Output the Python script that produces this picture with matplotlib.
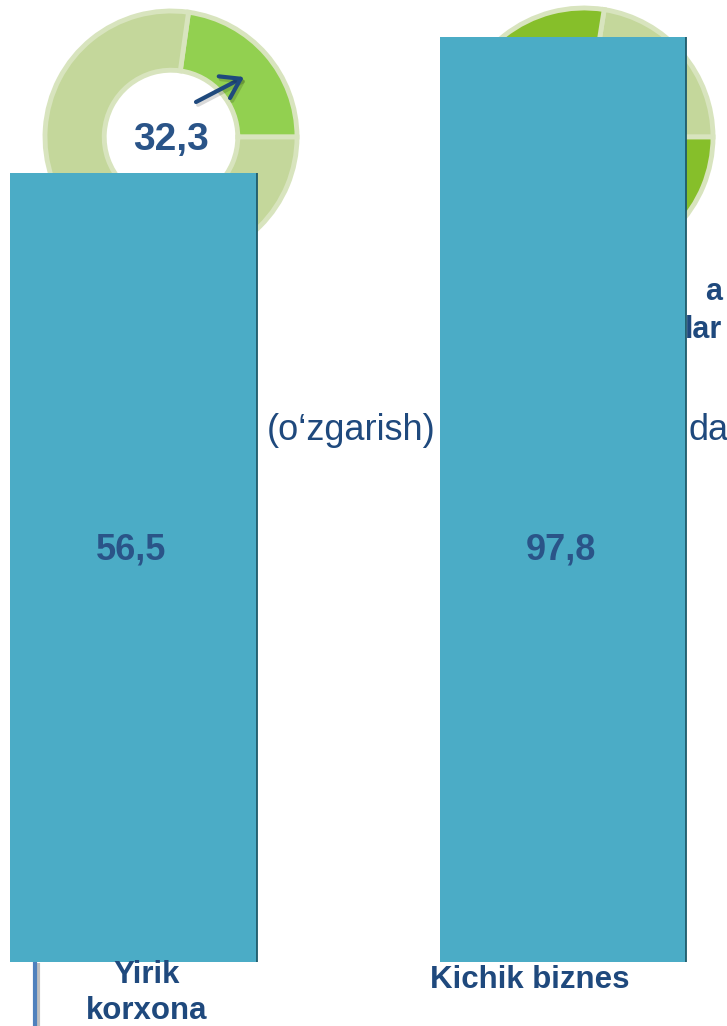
import matplotlib
matplotlib.use("Agg")
import matplotlib.pyplot as plt
import matplotlib.patheffects as pe
from matplotlib.transforms import blended_transform_factory

# ---- data ----
categories = ["Yirik\nkorxona", "Kichik biznes"]
values = [56.5, 97.8]
value_labels = ["56,5", "97,8"]
donut_left_shares = [82, 188, 90]      # degrees: bright green, light, light
donut_right_shares = [81, 189, 90]     # degrees: light, dark, dark
donut_left_center_label = "32,3"

W, H = 727, 1026
fig = plt.figure(figsize=(W / 100, H / 100), dpi=100)
plt.rcParams['font.family'] = ['Liberation Sans', 'DejaVu Sans']

NAVY = '#1F497D'
NUM = '#2A5488'
BAR = '#4BACC6'
RIM = '#D8E4BE'

# background axes in pixel coordinates
bg = fig.add_axes([0, 0, 1, 1])
bg.set_xlim(0, W)
bg.set_ylim(H, 0)
bg.axis('off')
bg.set_zorder(0)


def px_axes(cx, cy, r):
    return fig.add_axes([(cx - r) / W, (H - cy - r) / H, 2 * r / W, 2 * r / H])


# left donut
axl = px_axes(171, 137, 126)
axl.pie(donut_left_shares, startangle=0, counterclock=True, radius=1,
        colors=['#92D050', '#C4D79B', '#C4D79B'],
        wedgeprops=dict(width=0.47, edgecolor=RIM, linewidth=3.5))
axl.set_xlim(-1, 1)
axl.set_ylim(-1, 1)
axl.set_zorder(1)
axl.text(0, -0.02, donut_left_center_label, ha='center', va='center',
         fontsize=28, fontweight='bold', color=NUM)

# right donut
axr = px_axes(584, 137, 129)
axr.pie(donut_right_shares, startangle=0, counterclock=True, radius=1,
        colors=['#C4D79B', '#86BF2A', '#86BF2A'],
        wedgeprops=dict(width=0.47, edgecolor=RIM, linewidth=3.5))
axr.set_xlim(-1, 1)
axr.set_ylim(-1, 1)
axr.set_zorder(1)

# background texts
bg.text(351, 430, "(o‘zgarish)", ha='center', va='center', fontsize=26, color=NAVY)
bg.text(688, 430, "da", ha='left', va='center', fontsize=26, color=NAVY)
bg.text(722, 292, "a", ha='right', va='center', fontsize=22, fontweight='bold', color=NAVY)
bg.text(722, 330, "lar", ha='right', va='center', fontsize=22, fontweight='bold', color=NAVY)
bg.plot([35, 35], [962, 1026], color='#4F81BD', lw=3, solid_capstyle='butt',
        path_effects=[pe.SimpleLineShadow(offset=(2, -1), alpha=0.25), pe.Normal()])

# bar axes
ax = fig.add_axes([0, (H - 962) / H, 1, 962 / H])
ax.set_zorder(2)
ax.patch.set_alpha(0)
ymin, ymax = -183.1, 109.0
ax.set_xlim(-0.311, 1.382)
ax.set_ylim(ymin, ymax)
x = list(range(len(values)))
width = 0.575
ax.bar(x, [v - ymin for v in values], bottom=ymin, width=width, color=BAR, zorder=2)
ax.vlines([xi + width / 2 for xi in x], ymin, values, color='#1E5B6B', lw=1.3, zorder=3)
tr = blended_transform_factory(ax.transData, ax.transAxes)
for xi, lab in zip(x, value_labels):
    ax.text(xi - 0.005, 0.428, lab, transform=tr, ha='center', va='center',
            fontsize=26, fontweight='bold', color=NUM, zorder=4)
ax.axis('off')

# top overlay (arrow + category labels)
top = fig.add_axes([0, 0, 1, 1])
top.set_xlim(0, W)
top.set_ylim(H, 0)
top.axis('off')
top.patch.set_alpha(0)
top.set_zorder(3)
top.annotate('', xy=(244, 77), xytext=(196, 102),
             arrowprops=dict(arrowstyle='->,head_length=0.6,head_width=0.4',
                             color=NAVY, lw=3, shrinkA=0, shrinkB=0,
                             mutation_scale=22,
                             path_effects=[pe.SimpleLineShadow(offset=(1.5, -2), alpha=0.15),
                                           pe.Normal()]))
top.text(147, 975, categories[0].split("\n")[0], ha='center', va='center', fontsize=22.5,
         fontweight='bold', color=NAVY)
top.text(147, 1011, categories[0].split("\n")[1], ha='center', va='center', fontsize=22.5,
         fontweight='bold', color=NAVY)
top.text(530, 980, categories[1], ha='center', va='center', fontsize=22.5,
         fontweight='bold', color=NAVY)

fig.savefig("out.png", dpi=100)
